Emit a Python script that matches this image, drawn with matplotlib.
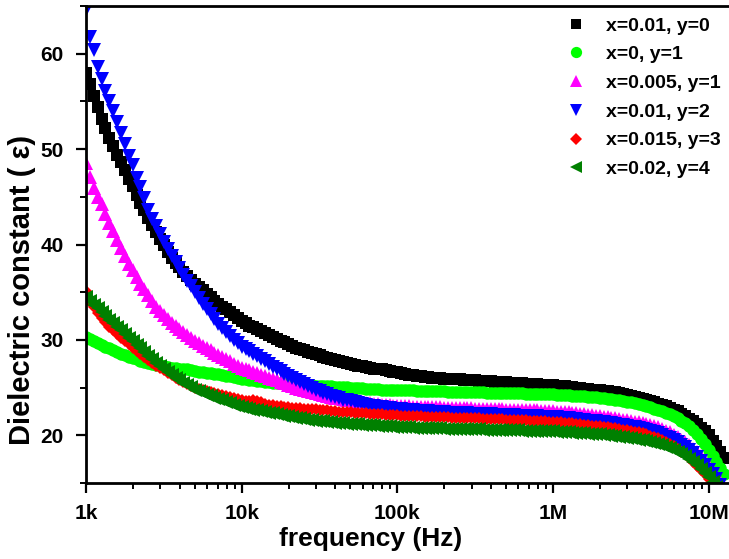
import numpy as np
import matplotlib.pyplot as plt
from matplotlib.ticker import FixedLocator, LogLocator, MultipleLocator, NullFormatter

plt.rcParams['font.family'] = ['Liberation Sans', 'DejaVu Sans']
plt.rcParams['font.weight'] = 'bold'

# frequency sweep: 40 points per decade, 1 kHz to ~12.6 MHz
freq = np.logspace(3, 7.1, 165)

eps_x001_y0 = [
    58.0, 56.8, 55.6, 54.4, 53.2, 52.2, 51.2, 50.3, 49.4, 48.6,
    47.8, 46.9, 46.1, 45.2, 44.4, 43.6, 42.8, 42.0, 41.3, 40.6,
    39.9, 39.2, 38.6, 38.1, 37.6, 37.1, 36.7, 36.3, 35.9, 35.5,
    35.2, 34.8, 34.5, 34.1, 33.8, 33.5, 33.2, 32.9, 32.6, 32.3,
    32.0, 31.75, 31.5, 31.3, 31.1, 30.9, 30.7, 30.5, 30.3, 30.1,
    29.9, 29.75, 29.6, 29.4, 29.2, 29.05, 28.9, 28.75, 28.6, 28.5,
    28.4, 28.25, 28.1, 28.0, 27.9, 27.8, 27.7, 27.6, 27.5, 27.4,
    27.3, 27.25, 27.2, 27.1, 27.0, 26.95, 26.9, 26.8, 26.7, 26.65,
    26.6, 26.5, 26.4, 26.35, 26.3, 26.25, 26.2, 26.15, 26.1, 26.05,
    26.0, 25.97, 25.95, 25.92, 25.9, 25.87, 25.85, 25.82, 25.8, 25.77,
    25.75, 25.72, 25.7, 25.67, 25.65, 25.62, 25.6, 25.57, 25.55, 25.52,
    25.5, 25.47, 25.45, 25.42, 25.4, 25.37, 25.35, 25.32, 25.3, 25.27,
    25.25, 25.22, 25.2, 25.15, 25.1, 25.05, 25.0, 24.95, 24.9, 24.85,
    24.8, 24.75, 24.7, 24.65, 24.6, 24.55, 24.5, 24.4, 24.3, 24.2,
    24.1, 24.0, 23.9, 23.8, 23.7, 23.58, 23.45, 23.33, 23.2, 23.05,
    22.9, 22.7, 22.5, 22.25, 22.0, 21.75, 21.5, 21.15, 20.8, 20.4,
    20.0, 19.45, 18.9, 18.25, 17.6]
eps_x0_y1 = [
    30.3, 30.1, 29.9, 29.7, 29.5, 29.3, 29.1, 28.9, 28.7, 28.55,
    28.4, 28.25, 28.1, 27.95, 27.8, 27.7, 27.6, 27.5, 27.4, 27.32,
    27.25, 27.17, 27.1, 27.05, 27.0, 26.95, 26.9, 26.82, 26.75, 26.67,
    26.6, 26.55, 26.5, 26.45, 26.4, 26.32, 26.25, 26.17, 26.1, 26.02,
    25.95, 25.87, 25.8, 25.75, 25.7, 25.65, 25.6, 25.55, 25.5, 25.47,
    25.45, 25.42, 25.4, 25.37, 25.35, 25.32, 25.3, 25.27, 25.25, 25.22,
    25.2, 25.17, 25.15, 25.12, 25.1, 25.07, 25.05, 25.02, 25.0, 24.97,
    24.95, 24.92, 24.9, 24.87, 24.85, 24.82, 24.8, 24.8, 24.8, 24.77,
    24.75, 24.72, 24.7, 24.7, 24.7, 24.67, 24.65, 24.65, 24.65, 24.62,
    24.6, 24.6, 24.6, 24.57, 24.55, 24.55, 24.55, 24.52, 24.5, 24.5,
    24.5, 24.5, 24.5, 24.47, 24.45, 24.45, 24.45, 24.42, 24.4, 24.4,
    24.4, 24.4, 24.4, 24.37, 24.35, 24.35, 24.35, 24.32, 24.3, 24.3,
    24.3, 24.27, 24.25, 24.22, 24.2, 24.17, 24.15, 24.12, 24.1, 24.05,
    24.0, 23.97, 23.95, 23.9, 23.85, 23.8, 23.75, 23.68, 23.6, 23.52,
    23.45, 23.35, 23.25, 23.15, 23.05, 22.93, 22.8, 22.65, 22.5, 22.35,
    22.2, 22.0, 21.8, 21.55, 21.3, 20.95, 20.6, 20.1, 19.6, 19.05,
    18.5, 17.85, 17.2, 16.55, 15.9]
eps_x0005_y1 = [
    48.5, 47.1, 45.9, 45.0, 44.2, 43.2, 42.3, 41.4, 40.5, 39.6,
    38.8, 38.0, 37.3, 36.6, 35.9, 35.3, 34.7, 34.1, 33.5, 33.05,
    32.6, 32.2, 31.8, 31.45, 31.1, 30.8, 30.5, 30.2, 29.9, 29.65,
    29.4, 29.15, 28.9, 28.65, 28.4, 28.2, 28.0, 27.75, 27.5, 27.3,
    27.1, 26.95, 26.8, 26.65, 26.5, 26.35, 26.2, 26.05, 25.9, 25.75,
    25.6, 25.45, 25.3, 25.15, 25.0, 24.9, 24.8, 24.65, 24.5, 24.4,
    24.3, 24.2, 24.1, 24.02, 23.95, 23.87, 23.8, 23.72, 23.65, 23.57,
    23.5, 23.45, 23.4, 23.35, 23.3, 23.25, 23.2, 23.17, 23.15, 23.12,
    23.1, 23.07, 23.05, 23.02, 23.0, 23.0, 23.0, 22.97, 22.95, 22.95,
    22.95, 22.92, 22.9, 22.9, 22.9, 22.87, 22.85, 22.85, 22.85, 22.82,
    22.8, 22.8, 22.8, 22.77, 22.75, 22.75, 22.75, 22.72, 22.7, 22.7,
    22.7, 22.67, 22.65, 22.62, 22.6, 22.6, 22.6, 22.57, 22.55, 22.52,
    22.5, 22.47, 22.45, 22.42, 22.4, 22.35, 22.3, 22.25, 22.2, 22.15,
    22.1, 22.05, 22.0, 21.95, 21.9, 21.85, 21.8, 21.72, 21.65, 21.57,
    21.5, 21.42, 21.35, 21.27, 21.2, 21.1, 21.0, 20.85, 20.7, 20.5,
    20.3, 20.05, 19.8, 19.55, 19.3, 18.95, 18.6, 18.2, 17.8, 17.3,
    16.8, 16.3, 15.8, 15.2, 14.6]
eps_x001_y2 = [
    64.6, 61.8, 60.4, 58.6, 57.3, 56.1, 55.0, 54.0, 52.8, 51.7,
    50.5, 49.3, 48.3, 47.0, 46.0, 44.9, 43.6, 42.7, 41.9, 41.1,
    40.3, 39.5, 38.8, 38.2, 37.5, 36.8, 36.2, 35.6, 35.0, 34.4,
    33.8, 33.2, 32.7, 32.2, 31.7, 31.2, 30.8, 30.4, 30.0, 29.65,
    29.3, 29.05, 28.8, 28.55, 28.3, 28.05, 27.8, 27.5, 27.2, 26.95,
    26.7, 26.45, 26.2, 26.0, 25.8, 25.6, 25.4, 25.2, 25.0, 24.8,
    24.6, 24.45, 24.3, 24.15, 24.0, 23.87, 23.75, 23.65, 23.55, 23.45,
    23.35, 23.27, 23.2, 23.12, 23.05, 23.0, 22.95, 22.9, 22.85, 22.8,
    22.75, 22.72, 22.7, 22.65, 22.6, 22.57, 22.55, 22.52, 22.5, 22.47,
    22.45, 22.42, 22.4, 22.37, 22.35, 22.32, 22.3, 22.3, 22.3, 22.27,
    22.25, 22.22, 22.2, 22.2, 22.2, 22.17, 22.15, 22.12, 22.1, 22.1,
    22.1, 22.07, 22.05, 22.02, 22.0, 22.0, 22.0, 21.97, 21.95, 21.92,
    21.9, 21.87, 21.85, 21.82, 21.8, 21.75, 21.7, 21.65, 21.6, 21.55,
    21.5, 21.45, 21.4, 21.35, 21.3, 21.25, 21.2, 21.12, 21.05, 20.97,
    20.9, 20.82, 20.75, 20.65, 20.55, 20.45, 20.35, 20.2, 20.05, 19.87,
    19.7, 19.47, 19.25, 19.0, 18.75, 18.42, 18.1, 17.7, 17.3, 16.85,
    16.4, 15.9, 15.4, 14.8, 14.2]
eps_x0015_y3 = [
    35.1, 34.0, 33.4, 32.8, 32.3, 31.85, 31.4, 31.0, 30.6, 30.25,
    29.9, 29.55, 29.2, 28.85, 28.5, 28.2, 27.9, 27.6, 27.3, 27.05,
    26.8, 26.55, 26.3, 26.05, 25.8, 25.57, 25.35, 25.17, 25.0, 24.85,
    24.7, 24.6, 24.5, 24.4, 24.3, 24.2, 24.1, 24.0, 23.9, 23.8,
    23.7, 23.62, 23.55, 23.65, 23.6, 23.45, 23.3, 23.22, 23.15, 23.1,
    23.05, 23.0, 22.95, 22.9, 22.85, 22.82, 22.8, 22.77, 22.75, 22.72,
    22.7, 22.65, 22.6, 22.55, 22.5, 22.47, 22.45, 22.42, 22.4, 22.37,
    22.35, 22.32, 22.3, 22.27, 22.25, 22.22, 22.2, 22.17, 22.15, 22.12,
    22.1, 22.07, 22.05, 22.02, 22.0, 22.0, 22.0, 21.97, 21.95, 21.92,
    21.9, 21.9, 21.9, 21.87, 21.85, 21.85, 21.85, 21.82, 21.8, 21.8,
    21.8, 21.77, 21.75, 21.72, 21.7, 21.7, 21.7, 21.67, 21.65, 21.62,
    21.6, 21.6, 21.6, 21.57, 21.55, 21.52, 21.5, 21.47, 21.45, 21.42,
    21.4, 21.37, 21.35, 21.32, 21.3, 21.25, 21.2, 21.15, 21.1, 21.05,
    21.0, 20.97, 20.95, 20.9, 20.85, 20.8, 20.75, 20.67, 20.6, 20.52,
    20.45, 20.37, 20.3, 20.2, 20.1, 19.97, 19.85, 19.67, 19.5, 19.3,
    19.1, 18.85, 18.6, 18.3, 18.0, 17.6, 17.2, 16.8, 16.4, 15.9,
    15.4, 14.85, 14.3, 13.75, 13.2]
eps_x002_y4 = [
    34.5, 34.1, 33.7, 33.3, 32.9, 32.5, 32.1, 31.75, 31.4, 31.0,
    30.6, 30.25, 29.9, 29.5, 29.1, 28.7, 28.3, 27.95, 27.6, 27.25,
    26.9, 26.6, 26.3, 26.05, 25.8, 25.52, 25.25, 25.02, 24.8, 24.6,
    24.4, 24.25, 24.1, 23.95, 23.8, 23.65, 23.5, 23.35, 23.2, 23.07,
    22.95, 22.85, 22.75, 22.67, 22.6, 22.52, 22.45, 22.37, 22.3, 22.22,
    22.15, 22.07, 22.0, 21.92, 21.85, 21.77, 21.7, 21.65, 21.6, 21.55,
    21.5, 21.45, 21.4, 21.35, 21.3, 21.27, 21.25, 21.22, 21.2, 21.17,
    21.15, 21.12, 21.1, 21.07, 21.05, 21.02, 21.0, 20.97, 20.95, 20.92,
    20.9, 20.87, 20.85, 20.82, 20.8, 20.8, 20.8, 20.77, 20.75, 20.75,
    20.75, 20.72, 20.7, 20.7, 20.7, 20.7, 20.7, 20.67, 20.65, 20.65,
    20.65, 20.62, 20.6, 20.6, 20.6, 20.6, 20.6, 20.57, 20.55, 20.55,
    20.55, 20.52, 20.5, 20.5, 20.5, 20.47, 20.45, 20.45, 20.45, 20.42,
    20.4, 20.37, 20.35, 20.32, 20.3, 20.27, 20.25, 20.22, 20.2, 20.17,
    20.15, 20.12, 20.1, 20.05, 20.0, 19.95, 19.9, 19.85, 19.8, 19.75,
    19.7, 19.62, 19.55, 19.47, 19.4, 19.3, 19.2, 19.07, 18.95, 18.8,
    18.65, 18.47, 18.3, 18.05, 17.8, 17.5, 17.2, 16.85, 16.5, 16.05,
    15.6, 15.1, 14.6, 14.05, 13.5]

series = [
    (eps_x001_y0, 'x=0.01, y=0', 'black', 's', 8.0),
    (eps_x0_y1, 'x=0, y=1', '#00ff00', 'o', 9.0),
    (eps_x0005_y1, 'x=0.005, y=1', '#ff00ff', '^', 9.5),
    (eps_x001_y2, 'x=0.01, y=2', '#0000ff', 'v', 9.5),
    (eps_x0015_y3, 'x=0.015, y=3', '#ff0000', 'D', 6.6),
    (eps_x002_y4, 'x=0.02, y=4', '#008000', '<', 9.5),
]

freq_ticks = [1e3, 1e4, 1e5, 1e6, 1e7]
freq_labels = ['1k', '10k', '100k', '1M', '10M']

fig = plt.figure(figsize=(7.29, 5.59), dpi=100)
ax = fig.add_axes([86 / 729, 76 / 559, 643 / 729, 477 / 559])

for vals, label, color, marker, ms in series:
    ax.plot(freq, vals, linestyle='none', marker=marker, markersize=ms,
            color=color, markeredgewidth=0, label=label)

ax.set_xscale('log')
ax.set_xlim(1e3, 1.35e7)
ax.set_ylim(15, 65)

ax.xaxis.set_major_locator(FixedLocator(freq_ticks))
ax.set_xticklabels(freq_labels)
ax.xaxis.set_minor_locator(LogLocator(base=10, subs=np.arange(2, 10)))
ax.xaxis.set_minor_formatter(NullFormatter())
ax.yaxis.set_major_locator(MultipleLocator(10))
ax.yaxis.set_minor_locator(MultipleLocator(5))

ax.tick_params(which='major', direction='out', length=7, width=1.6,
               labelsize=15)
ax.tick_params(axis='x', which='major', pad=8)
ax.tick_params(axis='y', which='major', pad=9)
ax.tick_params(which='minor', direction='out', length=4, width=1.4)
for side in ['left', 'bottom', 'top']:
    ax.spines[side].set_linewidth(2)
ax.spines['right'].set_visible(False)

ax.set_xlabel('frequency (Hz)', fontsize=19, fontweight='bold')
ax.xaxis.set_label_coords(0.443, -0.092)
ax.set_ylabel('Dielectric constant ( ε)', fontsize=21, fontweight='bold')
ax.yaxis.set_label_coords(-0.077, 0.405)

ax.legend(loc='upper left', bbox_to_anchor=(568 / 729, 1 - 17 / 559),
          bbox_transform=fig.transFigure, frameon=False, fontsize=14,
          handlelength=0.8, handletextpad=1.13, labelspacing=0.57,
          borderpad=0, borderaxespad=0, markerscale=0.9)

fig.savefig('out.png', dpi=100)
